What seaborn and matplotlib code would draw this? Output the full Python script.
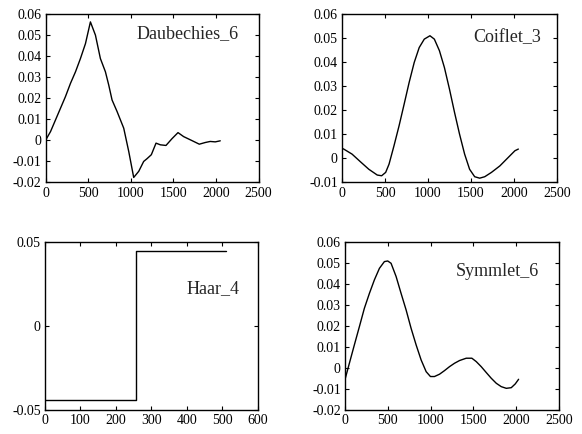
import matplotlib
matplotlib.use("Agg")
import matplotlib.pyplot as plt
import seaborn as sns
import pandas as pd
from matplotlib.ticker import FuncFormatter

# values
daub_x = [0, 59, 117, 176, 234, 293, 352, 410, 469, 527, 586, 644, 703, 742, 781,
          840, 918, 977, 1035, 1094, 1152, 1191, 1242, 1297, 1348, 1414, 1484,
          1555, 1621, 1719, 1805, 1875, 1933, 1992, 2051]
daub_y = [0.0, 0.0042, 0.0097, 0.0153, 0.0208, 0.0271, 0.0326, 0.0389, 0.046,
          0.0563, 0.050, 0.0389, 0.0326, 0.0263, 0.0192, 0.0137, 0.0058, -0.0053,
          -0.0176, -0.0147, -0.010, -0.0087, -0.0068, -0.0013, -0.0021, -0.0024,
          0.0008, 0.0037, 0.0018, -0.0001, -0.0018, -0.001, -0.0005, -0.0007,
          -0.0002]

coif_x = [0, 20, 117, 215, 312, 410, 461, 508, 547, 605, 664, 723, 781, 840, 898,
          957, 1023, 1074, 1133, 1191, 1250, 1309, 1367, 1426, 1484, 1543, 1601,
          1660, 1738, 1836, 1933, 2011, 2051]
coif_y = [0.0042, 0.0039, 0.0018, -0.0014, -0.0045, -0.0069, -0.0072, -0.0058,
          -0.0024, 0.0053, 0.0136, 0.0226, 0.0316, 0.0399, 0.0461, 0.0496, 0.051,
          0.0496, 0.0448, 0.0378, 0.0288, 0.0191, 0.0101, 0.0018, -0.0045,
          -0.0076, -0.0082, -0.0076, -0.0058, -0.0031, 0.0004, 0.0032, 0.0039]

haar_x = [0, 256, 511]
haar_y = [-0.0442, 0.0442, 0.0442]

sym_x = [4, 51, 109, 168, 226, 285, 343, 402, 460, 499, 538, 597, 655, 714, 772,
         831, 889, 948, 998, 1045, 1104, 1162, 1221, 1279, 1338, 1416, 1482, 1533,
         1591, 1650, 1708, 1767, 1825, 1884, 1942, 1989, 2028]
sym_y = [-0.0049, 0.0022, 0.0109, 0.0196, 0.0283, 0.0354, 0.0418, 0.0473, 0.0505,
         0.0508, 0.0497, 0.0434, 0.0354, 0.0275, 0.0188, 0.0109, 0.0038, -0.0018,
         -0.0041, -0.0041, -0.0030, -0.0013, 0.0006, 0.0022, 0.0035, 0.0046,
         0.0046, 0.0030, 0.0006, -0.0022, -0.0049, -0.0073, -0.0089, -0.0097,
         -0.0094, -0.0076, -0.0054]

sns.set_style("ticks")
plt.rcParams['font.family'] = ['Liberation Serif', 'DejaVu Serif']
plt.rcParams['axes.unicode_minus'] = False

fig = plt.figure(figsize=(5.82, 4.34), dpi=100)
ax1 = fig.add_axes([0.0782, 0.5795, 0.366, 0.388])
ax2 = fig.add_axes([0.5876, 0.5795, 0.3694, 0.388])
ax3 = fig.add_axes([0.0773, 0.0553, 0.366, 0.388])
ax4 = fig.add_axes([0.5928, 0.0553, 0.3677, 0.388])

fmt = FuncFormatter(lambda v, p: "0" if abs(v) < 1e-12 else "%g" % v)

panels = [
    (ax1, daub_x, daub_y, "Daubechies_6", (0, 2500, 500), (-0.02, 0.06, 0.01), (0.907, 0.887)),
    (ax2, coif_x, coif_y, "Coiflet_3", (0, 2500, 500), (-0.01, 0.06, 0.01), (0.926, 0.863)),
    (ax3, haar_x, haar_y, "Haar_4", (0, 600, 100), (-0.05, 0.05, 0.05), (0.915, 0.72)),
    (ax4, sym_x, sym_y, "Symmlet_6", (0, 2500, 500), (-0.02, 0.06, 0.01), (0.907, 0.825)),
]

for ax, xs, ys, name, xr, yr, tpos in panels:
    df = pd.DataFrame({"x": xs, "y": ys})
    if name == "Haar_4":
        sns.lineplot(data=df, x="x", y="y", ax=ax, color="black", linewidth=1,
                     drawstyle="steps-post")
    else:
        sns.lineplot(data=df, x="x", y="y", ax=ax, color="black", linewidth=1)
    ax.set_xlim(xr[0], xr[1])
    ax.set_ylim(yr[0], yr[1])
    n = int(round((xr[1] - xr[0]) / xr[2]))
    ax.set_xticks([xr[0] + i * xr[2] for i in range(n + 1)])
    m = int(round((yr[1] - yr[0]) / yr[2]))
    ax.set_yticks([yr[0] + i * yr[2] for i in range(m + 1)])
    ax.xaxis.set_major_formatter(fmt)
    ax.yaxis.set_major_formatter(fmt)
    ax.set_xlabel("")
    ax.set_ylabel("")
    ax.tick_params(direction="in", top=True, right=True, length=3, width=0.8,
                   labelsize=10, pad=3, colors="black")
    for s in ax.spines.values():
        s.set_color("black")
        s.set_linewidth(1)
    ax.text(tpos[0], tpos[1], name, transform=ax.transAxes, ha="right",
            va="center", fontsize=13)

fig.savefig("out.png", dpi=100)
